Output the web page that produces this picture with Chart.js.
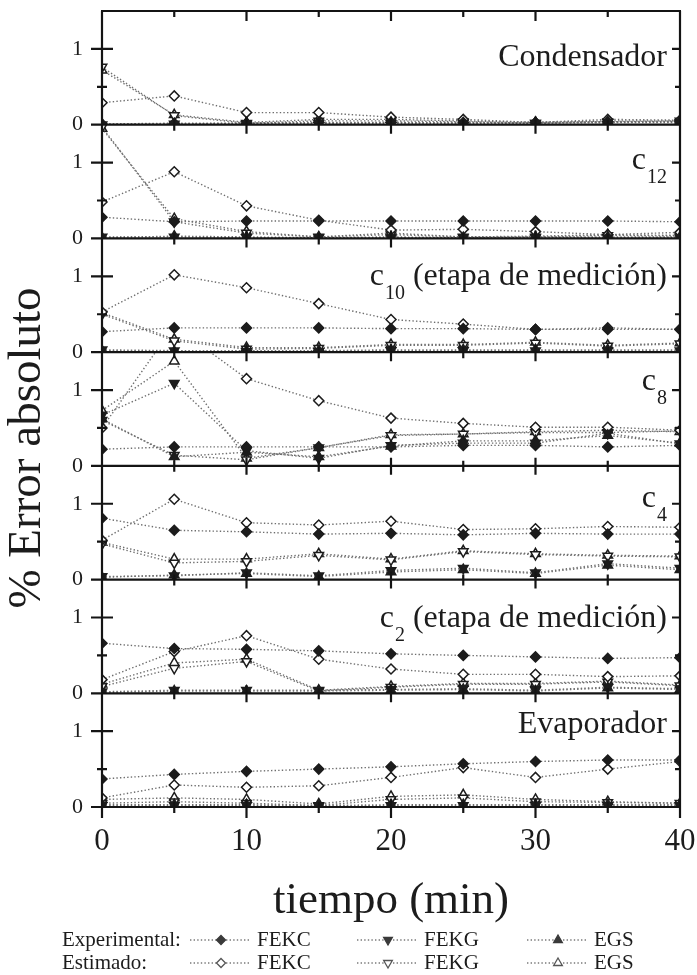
<!DOCTYPE html>
<html>
<head>
<meta charset="utf-8">
<script src="https://cdn.jsdelivr.net/npm/chart.js@4.4.1/dist/chart.umd.min.js"></script>
<style>
  html, body { margin: 0; padding: 0; background: #ffffff; }
  #wrap { width: 697px; height: 975px; }
</style>
</head>
<body>
<div id="wrap"><canvas id="chart" width="697" height="975"></canvas></div>
<script>
// Sampling times (min)
const tiempo = [0, 5, 10, 15, 20, 25, 30, 35, 40];

// Condensador
const condExpFEKC = [0.01, 0.02, 0.02, 0.03, 0.03, 0.03, 0.03, 0.04, 0.04];
const condExpFEKG = [0.00, 0.01, 0.01, 0.02, 0.02, 0.02, 0.02, 0.03, 0.03];
const condExpEGS  = [0.01, 0.01, 0.02, 0.02, 0.03, 0.02, 0.03, 0.03, 0.04];
const condEstFEKC = [0.29, 0.38, 0.16, 0.16, 0.10, 0.07, 0.03, 0.07, 0.06];
const condEstFEKG = [0.76, 0.12, 0.02, 0.05, 0.05, 0.04, 0.02, 0.04, 0.05];
const condEstEGS  = [0.72, 0.13, 0.03, 0.07, 0.07, 0.05, 0.03, 0.05, 0.05];

// c12
const c12ExpFEKC = [0.28, 0.22, 0.23, 0.23, 0.23, 0.23, 0.23, 0.23, 0.22];
const c12ExpFEKG = [0.02, 0.02, 0.01, 0.01, 0.01, 0.01, 0.01, 0.01, 0.01];
const c12ExpEGS  = [0.01, 0.03, 0.02, 0.01, 0.02, 0.01, 0.02, 0.02, 0.02];
const c12EstFEKC = [0.48, 0.88, 0.43, 0.24, 0.11, 0.12, 0.09, 0.05, 0.08];
const c12EstFEKG = [1.47, 0.22, 0.07, 0.02, 0.05, 0.02, 0.02, 0.04, 0.03];
const c12EstEGS  = [1.45, 0.26, 0.09, 0.02, 0.07, 0.02, 0.03, 0.05, 0.04];

// c10 (etapa de medición)
const c10ExpFEKC = [0.27, 0.32, 0.32, 0.32, 0.31, 0.31, 0.30, 0.30, 0.30];
const c10ExpFEKG = [0.03, 0.02, 0.01, 0.01, 0.02, 0.02, 0.02, 0.02, 0.02];
const c10ExpEGS  = [0.02, 0.01, 0.02, 0.02, 0.03, 0.03, 0.03, 0.03, 0.03];
const c10EstFEKC = [0.53, 1.02, 0.85, 0.64, 0.43, 0.37, 0.30, 0.32, 0.30];
const c10EstFEKG = [0.50, 0.15, 0.04, 0.05, 0.09, 0.09, 0.12, 0.08, 0.11];
const c10EstEGS  = [0.52, 0.17, 0.06, 0.06, 0.10, 0.10, 0.13, 0.09, 0.12];

// c8
const c8ExpFEKC = [0.22, 0.25, 0.25, 0.25, 0.25, 0.27, 0.27, 0.25, 0.27];
const c8ExpFEKG = [0.67, 1.09, 0.20, 0.10, 0.27, 0.30, 0.30, 0.43, 0.29];
const c8ExpEGS  = [0.62, 0.12, 0.18, 0.12, 0.26, 0.33, 0.33, 0.40, 0.30];
const c8EstFEKC = [0.50, 1.85, 1.15, 0.86, 0.63, 0.56, 0.51, 0.51, 0.47];
const c8EstFEKG = [0.60, 0.14, 0.08, 0.24, 0.40, 0.42, 0.44, 0.44, 0.46];
const c8EstEGS  = [0.73, 1.38, 0.10, 0.24, 0.41, 0.42, 0.45, 0.47, 0.45];

// c4
const c4ExpFEKC = [0.81, 0.65, 0.63, 0.60, 0.61, 0.59, 0.61, 0.60, 0.60];
const c4ExpFEKG = [0.04, 0.05, 0.09, 0.05, 0.12, 0.15, 0.09, 0.21, 0.15];
const c4ExpEGS  = [0.03, 0.06, 0.08, 0.04, 0.10, 0.13, 0.08, 0.19, 0.13];
const c4EstFEKC = [0.52, 1.06, 0.75, 0.72, 0.77, 0.66, 0.67, 0.70, 0.69];
const c4EstFEKG = [0.47, 0.22, 0.24, 0.32, 0.26, 0.37, 0.33, 0.31, 0.30];
const c4EstEGS  = [0.49, 0.27, 0.27, 0.34, 0.27, 0.38, 0.34, 0.32, 0.31];

// c2 (etapa de medición)
const c2ExpFEKC = [0.66, 0.59, 0.58, 0.56, 0.52, 0.50, 0.48, 0.46, 0.47];
const c2ExpFEKG = [0.02, 0.04, 0.04, 0.04, 0.05, 0.06, 0.04, 0.08, 0.06];
const c2ExpEGS  = [0.01, 0.03, 0.03, 0.03, 0.04, 0.05, 0.03, 0.07, 0.05];
const c2EstFEKC = [0.18, 0.55, 0.76, 0.45, 0.32, 0.25, 0.25, 0.22, 0.23];
const c2EstFEKG = [0.09, 0.33, 0.42, 0.03, 0.08, 0.12, 0.12, 0.15, 0.10];
const c2EstEGS  = [0.12, 0.40, 0.45, 0.04, 0.09, 0.13, 0.13, 0.16, 0.11];

// Evaporador
const evapExpFEKC = [0.37, 0.43, 0.47, 0.50, 0.53, 0.57, 0.60, 0.62, 0.62];
const evapExpFEKG = [0.02, 0.02, 0.02, 0.01, 0.02, 0.02, 0.02, 0.02, 0.02];
const evapExpEGS  = [0.03, 0.03, 0.03, 0.02, 0.03, 0.03, 0.03, 0.03, 0.03];
const evapEstFEKC = [0.12, 0.29, 0.26, 0.28, 0.39, 0.52, 0.39, 0.50, 0.60];
const evapEstFEKG = [0.05, 0.07, 0.05, 0.02, 0.10, 0.12, 0.07, 0.06, 0.05];
const evapEstEGS  = [0.10, 0.12, 0.10, 0.04, 0.14, 0.16, 0.10, 0.07, 0.05];

// Panel captions (main text, subscript, trailing text)
const panelMain = ['Condensador', 'c', 'c', 'c', 'c', 'c', 'Evaporador'];
const panelSub  = ['', '12', '10', '8', '4', '2', ''];
const panelRest = ['', '', ' (etapa de medición)', '', '', ' (etapa de medición)', ''];
const seriesNames = ['FEKC', 'FEKG', 'EGS'];
const groupNames = ['Experimental:', 'Estimado:'];
const yTickLabels = [0, 1];

// ---- layout / style ----
const FONT = "'Liberation Serif', 'Times New Roman', serif";
const INK = '#1c1c1c';
const captionBase = [0.78, 0.92, 0.88, 1.0, 0.96, 0.87, 0.97];
const markerShape = ['rectRot', 'triangle', 'triangle'];
const markerTurn = [0, 180, 0];
const markerSize = [5, 5.5, 5.5];
const lineDash = [1.4, 2.2];

const panelIds = ['p0', 'p1', 'p2', 'p3', 'p4', 'p5', 'p6'];
const panelSeries = [
  [[condExpFEKC, condExpFEKG, condExpEGS], [condEstFEKC, condEstFEKG, condEstEGS]],
  [[c12ExpFEKC, c12ExpFEKG, c12ExpEGS], [c12EstFEKC, c12EstFEKG, c12EstEGS]],
  [[c10ExpFEKC, c10ExpFEKG, c10ExpEGS], [c10EstFEKC, c10EstFEKG, c10EstEGS]],
  [[c8ExpFEKC, c8ExpFEKG, c8ExpEGS], [c8EstFEKC, c8EstFEKG, c8EstEGS]],
  [[c4ExpFEKC, c4ExpFEKG, c4ExpEGS], [c4EstFEKC, c4EstFEKG, c4EstEGS]],
  [[c2ExpFEKC, c2ExpFEKG, c2ExpEGS], [c2EstFEKC, c2EstFEKG, c2EstEGS]],
  [[evapExpFEKC, evapExpFEKG, evapExpEGS], [evapEstFEKC, evapEstFEKG, evapEstEGS]]
];

const datasets = [];
panelSeries.forEach((groups, k) => {
  groups.forEach((group, g) => {
    group.forEach((vals, j) => {
      datasets.push({
        label: groupNames[g] + ' ' + seriesNames[j],
        data: tiempo.map((t, i) => ({ x: t, y: vals[i] })),
        xAxisID: 'x',
        yAxisID: panelIds[k],
        borderColor: '#6e6e6e',
        borderWidth: 1.4,
        borderDash: lineDash,
        fill: false,
        tension: 0,
        pointStyle: markerShape[j],
        pointRotation: markerTurn[j],
        pointRadius: markerSize[j],
        pointBorderWidth: 1.5,
        pointBackgroundColor: g === 0 ? INK : '#ffffff',
        pointBorderColor: INK
      });
    });
  });
});

const scales = {
  x: {
    type: 'linear', position: 'bottom', min: 0, max: 40,
    ticks: { stepSize: 10, padding: 16, maxRotation: 0, color: INK, font: { family: FONT, size: 31 } },
    grid: { display: false, drawTicks: false },
    border: { display: false },
    title: { display: true, text: 'tiempo (min)', color: INK, font: { family: FONT, size: 45 }, padding: { top: 0, bottom: 47 } },
    afterFit(s) { s.height = 168; s.paddingLeft = 0; s.paddingRight = 0; }
  }
};
panelIds.forEach((id, k) => {
  scales[id] = {
    type: 'linear', position: 'left', stack: 'panels', stackWeight: 1, weight: 10 - k,
    min: 0, max: 1.5,
    ticks: {
      stepSize: 0.5, padding: 19, color: INK, autoSkip: false,
      font: { family: FONT, size: 22 },
      callback: v => (yTickLabels.includes(v) ? String(v) : null)
    },
    grid: { display: false, drawTicks: false },
    border: { display: false },
    afterFit(s) { s.width = 102; s.paddingTop = 0; s.paddingBottom = 0; }
  };
});

function markerPath(ctx, shape, turn, r, x, y) {
  ctx.beginPath();
  if (shape === 'rectRot') {
    ctx.moveTo(x - r, y); ctx.lineTo(x, y - r); ctx.lineTo(x + r, y); ctx.lineTo(x, y + r);
  } else {
    const s = turn === 180 ? -1 : 1;
    const h = Math.sqrt(3) / 2 * r;
    ctx.moveTo(x, y - s * r); ctx.lineTo(x + h, y + s * r / 2); ctx.lineTo(x - h, y + s * r / 2);
  }
  ctx.closePath();
}

const panelFrame = {
  id: 'panelFrame',
  afterDatasetsDraw(chart) {
    const ctx = chart.ctx, xs = chart.scales.x;
    const ys = panelIds.map(id => chart.scales[id]);
    const L = xs.left, R = xs.right;
    const T = ys[0].getPixelForValue(1.5);
    const B = ys[ys.length - 1].getPixelForValue(0);
    ctx.save();
    ctx.strokeStyle = '#141414';
    ctx.lineWidth = 2.2;
    ctx.setLineDash([]);
    ctx.beginPath();
    ctx.moveTo(L - 1, T); ctx.lineTo(R + 1, T);
    ctx.moveTo(L, T); ctx.lineTo(L, B + 11);
    ctx.moveTo(R, T); ctx.lineTo(R, B + 11);
    for (let t = 5; t < 40; t += 5) {
      const px = xs.getPixelForValue(t);
      ctx.moveTo(px, T); ctx.lineTo(px, T + (t % 10 === 0 ? 10 : 6));
    }
    ys.forEach((s, k) => {
      const y0 = s.getPixelForValue(0), y1 = s.getPixelForValue(1), yh = s.getPixelForValue(0.5);
      ctx.moveTo(L - 11, y0); ctx.lineTo(R, y0);
      const last = k === ys.length - 1;
      for (let t = 5; t < 40; t += 5) {
        const px = xs.getPixelForValue(t);
        const major = t % 10 === 0;
        ctx.moveTo(px, y0 - (major ? 8 : 5));
        ctx.lineTo(px, y0 + (last ? (major ? 11 : 6) : (major ? 9 : 6)));
      }
      ctx.moveTo(L - 11, y1); ctx.lineTo(L + 11, y1);
      ctx.moveTo(L - 5, yh); ctx.lineTo(L + 5, yh);
      ctx.moveTo(R - 8, y1); ctx.lineTo(R, y1);
      ctx.moveTo(R - 5, yh); ctx.lineTo(R, yh);
    });
    ctx.stroke();
    ctx.restore();
  },
  afterDraw(chart) {
    const ctx = chart.ctx, xs = chart.scales.x;
    const R = xs.right;
    ctx.save();
    ctx.fillStyle = INK;
    ctx.textBaseline = 'alphabetic';
    ctx.textAlign = 'right';
    // panel captions
    panelIds.forEach((id, k) => {
      const s = chart.scales[id];
      const yb = s.getPixelForValue(captionBase[k]);
      let x = R - 13;
      ctx.font = '32px ' + FONT;
      if (panelRest[k]) { ctx.fillText(panelRest[k], x, yb); x -= ctx.measureText(panelRest[k]).width; }
      if (panelSub[k]) {
        ctx.font = '20px ' + FONT;
        ctx.fillText(panelSub[k], x, yb + 14);
        x -= ctx.measureText(panelSub[k]).width + 1;
        ctx.font = '32px ' + FONT;
      }
      ctx.fillText(panelMain[k], x, yb);
    });
    // y-axis title
    ctx.save();
    ctx.translate(28, 448);
    ctx.rotate(-Math.PI / 2);
    ctx.textAlign = 'center';
    ctx.textBaseline = 'middle';
    ctx.font = '47px ' + FONT;
    ctx.fillText('% Error absoluto', 0, 0);
    ctx.restore();
    // legend
    const rowY = [940, 963];
    const colX = [190, 357, 527];
    ctx.textAlign = 'left';
    ctx.textBaseline = 'middle';
    groupNames.forEach((name, g) => {
      const y = rowY[g];
      ctx.font = '21px ' + FONT;
      ctx.fillStyle = INK;
      ctx.fillText(name, 62, y);
      seriesNames.forEach((sn, j) => {
        const x0 = colX[j];
        ctx.setLineDash(lineDash);
        ctx.strokeStyle = '#7a7a7a';
        ctx.lineWidth = 1.3;
        ctx.beginPath(); ctx.moveTo(x0, y); ctx.lineTo(x0 + 60, y); ctx.stroke();
        ctx.setLineDash([]);
        markerPath(ctx, markerShape[j], markerTurn[j], markerSize[j] - 0.5, x0 + 31, y);
        ctx.fillStyle = g === 0 ? '#3a3a3a' : '#ffffff';
        ctx.fill();
        ctx.strokeStyle = g === 0 ? '#3a3a3a' : '#555555';
        ctx.stroke();
        ctx.fillStyle = INK;
        ctx.font = '21px ' + FONT;
        ctx.fillText(sn, x0 + 67, y);
      });
    });
    ctx.restore();
  }
};

new Chart(document.getElementById('chart'), {
  type: 'line',
  data: { datasets },
  options: {
    responsive: false,
    animation: false,
    devicePixelRatio: 1,
    layout: { padding: { left: 0, right: 17, top: 11, bottom: 0 } },
    plugins: { legend: { display: false }, tooltip: { enabled: false } },
    scales
  },
  plugins: [panelFrame]
});
</script>
</body>
</html>
